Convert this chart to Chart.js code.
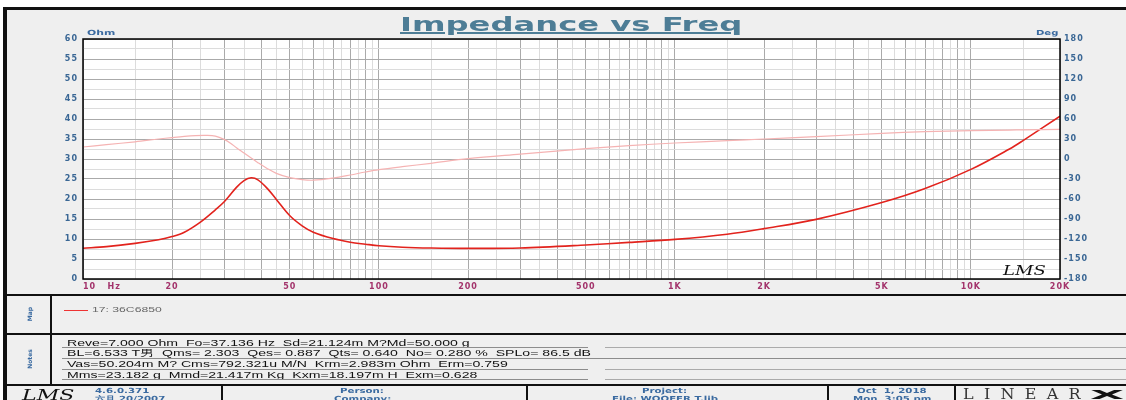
<!DOCTYPE html>
<html>
<head>
<meta charset="utf-8">
<script src="https://cdn.jsdelivr.net/npm/chart.js@4.4.1/dist/chart.umd.min.js"></script>
<style>
  html, body { margin: 0; padding: 0; background: #fff; }
  #page { position: relative; width: 1126px; height: 400px; overflow: hidden; background: #fff;
          font-family: "Liberation Sans", Arial, sans-serif; }
  .bar { position: absolute; background: #111; }
  .t { position: absolute; white-space: pre; line-height: 1; transform-origin: 0 50%; }
  .blue { color: #3a6aa0; font-family: "DejaVu Sans", sans-serif; font-weight: bold; }
  .uline { position: absolute; height: 1px; background: #8c8c8c; }
  #chartBox { position: absolute; left: 0; top: 0; width: 1126px; height: 294px; }
</style>
</head>
<body>
<div id="page">
  <!-- panel background and frame -->
  <div style="position:absolute;left:7px;top:10px;width:1119px;height:390px;background:#efefef"></div>
  <div id="chartBox"><canvas id="impChart"></canvas></div>
  <div class="bar" style="left:3px;top:7px;width:1123px;height:3px"></div>
  <div class="bar" style="left:3px;top:7px;width:4px;height:393px"></div>

  <!-- title and axis units -->
  <div class="t" id="title" style="left:400px;top:14px;font:bold 20px 'DejaVu Sans',sans-serif;line-height:20px;color:#4d7d96;text-decoration:underline;text-decoration-thickness:2px;text-underline-offset:1px">Impedance vs Freq</div>
  <div class="t blue" id="ohm" style="left:87px;top:30px;font-size:7px">Ohm</div>
  <div class="t blue" id="deg" style="left:1036px;top:30px;font-size:7px">Deg</div>
  <div class="t" id="lmsPlot" style="left:1003px;top:263px;font:italic 13px 'DejaVu Serif',serif;color:#111">LMS</div>

  <!-- separators -->
  <div class="bar" style="left:3px;top:294px;width:1123px;height:2px"></div>
  <div class="bar" style="left:3px;top:333px;width:1123px;height:2px"></div>
  <div class="bar" style="left:3px;top:384px;width:1123px;height:2px"></div>
  <div class="bar" style="left:50px;top:296px;width:2px;height:88px"></div>
  <div class="bar" style="left:221px;top:386px;width:2px;height:14px"></div>
  <div class="bar" style="left:526px;top:386px;width:2px;height:14px"></div>
  <div class="bar" style="left:827px;top:386px;width:2px;height:14px"></div>
  <div class="bar" style="left:954px;top:386px;width:2px;height:14px"></div>

  <!-- Map box -->
  <div class="t blue" style="left:16px;top:311px;font-size:6px;transform:rotate(-90deg);transform-origin:50% 50%;width:28px;text-align:center">Map</div>
  <div style="position:absolute;left:64px;top:310px;width:24px;height:1px;background:#e33"></div>
  <div class="t" id="legendText" style="left:92px;top:306px;font-size:8px;color:#666">17: 36C6850</div>

  <!-- Notes box -->
  <div class="t blue" style="left:12px;top:356px;font-size:6px;transform:rotate(-90deg);transform-origin:50% 50%;width:36px;text-align:center">Notes</div>
  <div class="t note" style="left:67px;top:338.5px;font-size:9px;color:#111">Reve=7.000 Ohm  Fo=37.136 Hz  Sd=21.124m M?Md=50.000 g</div>
  <div class="t note" style="left:67px;top:349.2px;font-size:9px;color:#111">BL=6.533 T男  Qms= 2.303  Qes= 0.887  Qts= 0.640  No= 0.280 %  SPLo= 86.5 dB</div>
  <div class="t note" style="left:67px;top:359.9px;font-size:9px;color:#111">Vas=50.204m M? Cms=792.321u M/N  Krm=2.983m Ohm  Erm=0.759</div>
  <div class="t note" style="left:67px;top:370.6px;font-size:9px;color:#111">Mms=23.182 g  Mmd=21.417m Kg  Kxm=18.197m H  Exm=0.628</div>
  <div class="uline" style="left:62px;top:347px;width:526px"></div>
  <div class="uline" style="left:605px;top:347px;width:521px;background:#aaa"></div>
  <div class="uline" style="left:62px;top:358px;width:1064px"></div>
  <div class="uline" style="left:62px;top:368.5px;width:526px"></div>
  <div class="uline" style="left:605px;top:368.5px;width:521px;background:#aaa"></div>
  <div class="uline" style="left:62px;top:379px;width:526px"></div>
  <div class="uline" style="left:605px;top:379px;width:521px;background:#aaa"></div>

  <!-- bottom strip -->
  <div class="t" id="lmsLogo" style="left:22px;top:386px;font:italic 15px 'DejaVu Serif',serif;color:#111">LMS</div>
  <div class="t blue strip" style="left:95px;top:388px;font-size:7px">4.6.0.371</div>
  <div class="t blue strip" style="left:95px;top:396px;font-size:7px">六月 20/2007</div>
  <div class="t blue strip c" data-cx="362" style="top:388px;font-size:7px">Person:</div>
  <div class="t blue strip c" data-cx="362" style="top:396px;font-size:7px">Company:</div>
  <div class="t blue strip c" data-cx="665" style="top:388px;font-size:7px">Project:</div>
  <div class="t blue strip c" data-cx="665" style="top:396px;font-size:7px">File: WOOFER T.lib</div>
  <div class="t blue strip c" id="dateText" data-cx="892" style="top:388px;font-size:7px">Oct  1, 2018</div>
  <div class="t blue strip c" data-cx="892" style="top:396px;font-size:7px">Mon  3:05 pm</div>
  <div class="t" id="linear" style="left:963px;top:386px;font:14px 'DejaVu Serif',serif;letter-spacing:9px;color:#333">LINEAR</div>
  <div class="t" id="linX" style="left:1090px;top:387px;font:bold 13px 'DejaVu Sans',sans-serif;color:#111">X</div>
</div>

<script>
// impedance magnitude
const impFreqHz = [10, 12, 15, 18, 20, 22, 25, 28, 30, 33, 35, 37, 39, 42, 45, 50, 55, 60, 70, 80, 90,
  100, 120, 150, 200, 300, 500, 700, 1000, 1500, 2000, 3000, 5000, 7000, 10000, 13500, 15000, 20000];
const impedanceOhm = [7.7, 8.1, 8.9, 9.8, 10.6, 11.7, 14.3, 17.3, 19.3, 22.9, 24.6, 25.3, 24.8, 22.6, 19.9, 15.8, 13.3, 11.7, 10.1, 9.2, 8.7,
  8.3, 7.95, 7.75, 7.65, 7.75, 8.5, 9.15, 9.9, 11.2, 12.6, 14.9, 19.1, 22.6, 27.4, 32.5, 34.6, 40.7];

// phase, right axis
const phaseFreqHz = [10, 12, 15, 18, 20, 22, 24, 26, 28, 30, 31.5, 33, 35, 37, 39, 42, 45, 50, 55, 60, 70, 80, 90,
  100, 120, 150, 200, 300, 500, 700, 1000, 1500, 2000, 3000, 5000, 7000, 10000, 13500, 15000, 20000];
const phaseDeg = [18, 21.5, 25.8, 30, 32.2, 34, 35.1, 35.4, 34.4, 29.5, 23.8, 16.8, 9, 1.5, -5.5, -14.5, -21.5, -28, -31, -31.8, -28.5, -24, -19.5,
  -16, -11.5, -6.5, 0.5, 7.3, 15.5, 20, 24, 27.5, 30, 33.5, 38.5, 41, 42.5, 43.4, 43.7, 44.3];

const xLabelValues = [10, 20, 50, 100, 200, 500, 1000, 2000, 5000, 10000, 20000];
const xLabelTexts = ['10   Hz', '20', '50', '100', '200', '500', '1K', '2K', '5K', '10K', '20K'];
const gridSteps = [1, 1.5, 2, 2.5, 3, 3.5, 4, 4.5, 5, 5.5, 6, 6.5, 7, 7.5, 8, 8.5, 9, 9.5];

const GRID_MAJOR = '#aaaaaa';
const GRID_MINOR = '#dcdcdc';
const AXIS_BLUE = '#3a6795';
const AXIS_RED = '#a3336b';

// grid every half unit of each decade
const gridTicks = [];
[10, 100, 1000, 10000].forEach(d => {
  gridSteps.forEach(m => { if (d * m <= 20000) gridTicks.push(d * m); });
});

function isMajorFreq(v) {
  if (!v) return false;
  const m = v / Math.pow(10, Math.floor(Math.log10(v) + 1e-9));
  return Math.abs(m - Math.round(m)) < 1e-6;
}

const tickFont = { family: 'DejaVu Sans', size: 8, weight: 'bold' };

const frameBits = {
  id: 'frameBits',
  beforeDraw(chart) {
    const { ctx, chartArea: a } = chart;
    ctx.save();
    ctx.fillStyle = '#ffffff';
    ctx.fillRect(a.left, a.top, a.right - a.left, a.bottom - a.top);
    ctx.restore();
    ctx.letterSpacing = '1px';
  },
  afterDraw(chart) {
    const { ctx, chartArea: a } = chart;
    ctx.save();
    ctx.strokeStyle = '#000';
    ctx.lineWidth = 1.5;
    ctx.strokeRect(a.left, a.top, a.right - a.left, a.bottom - a.top);
    ctx.restore();
  }
};

const impChart = new Chart(document.getElementById('impChart'), {
  type: 'line',
  data: {
    datasets: [
      {
        label: 'Phase',
        data: phaseFreqHz.map((f, i) => ({ x: f, y: phaseDeg[i] })),
        yAxisID: 'y1',
        borderColor: '#f5b3b3',
        borderWidth: 1.2,
        pointRadius: 0,
        tension: 0.35
      },
      {
        label: '17: 36C6850',
        data: impFreqHz.map((f, i) => ({ x: f, y: impedanceOhm[i] })),
        yAxisID: 'y',
        borderColor: '#e2231d',
        borderWidth: 1.6,
        pointRadius: 0,
        tension: 0.35
      }
    ]
  },
  options: {
    responsive: true,
    maintainAspectRatio: false,
    animation: false,
    layout: { padding: { top: 39, left: 0, right: 0, bottom: 0 } },
    plugins: { legend: { display: false }, tooltip: { enabled: false } },
    scales: {
      x: {
        type: 'logarithmic',
        min: 10,
        max: 20000,
        afterBuildTicks: s => { s.ticks = gridTicks.map(v => ({ value: v })); },
        afterFit: s => { s.height = 15; },
        border: { display: false },
        grid: {
          drawTicks: false,
          lineWidth: 1,
          color: c => isMajorFreq(c.tick && c.tick.value) ? GRID_MAJOR : GRID_MINOR
        },
        ticks: {
          autoSkip: false, maxRotation: 0, minRotation: 0, padding: 3,
          color: AXIS_RED, font: tickFont,
          callback: v => {
            const i = xLabelValues.indexOf(v);
            if (i < 0) return '';
            return i === 0 ? ' '.repeat(10) + xLabelTexts[0] : xLabelTexts[i];
          }
        }
      },
      y: {
        position: 'left',
        min: 0,
        max: 60,
        afterFit: s => { s.width = 83; },
        border: { display: false },
        grid: {
          drawTicks: false,
          lineWidth: 1,
          color: c => (c.tick && c.tick.value % 5 === 0) ? GRID_MAJOR : GRID_MINOR
        },
        ticks: {
          stepSize: 2.5, autoSkip: false, padding: 5,
          color: AXIS_BLUE, font: tickFont,
          callback: v => v % 5 === 0 ? String(v) : ''
        }
      },
      y1: {
        position: 'right',
        min: -180,
        max: 180,
        afterFit: s => { s.width = 66; },
        border: { display: false },
        grid: { display: false, drawTicks: false },
        ticks: { stepSize: 30, autoSkip: false, padding: 4, color: AXIS_BLUE, font: tickFont }
      }
    }
  },
  plugins: [frameBits]
});

// the reference text is drawn wide, stretch the html labels to its widths
function stretch(el, w) {
  const s = w / el.offsetWidth;
  el.style.transform = 'scaleX(' + s + ')';
  return s;
}
stretch(document.getElementById('title'), 343);
stretch(document.getElementById('ohm'), 28);
stretch(document.getElementById('deg'), 23);
stretch(document.getElementById('lmsPlot'), 43);
stretch(document.getElementById('lmsLogo'), 53);
stretch(document.getElementById('legendText'), 70);
stretch(document.getElementById('linear'), 128);
stretch(document.getElementById('linX'), 34);

const notes = document.querySelectorAll('.note');
const noteScale = 411 / notes[3].offsetWidth;
notes.forEach(el => { el.style.transform = 'scaleX(' + noteScale + ')'; });

const stripScale = 70 / document.getElementById('dateText').offsetWidth;
document.querySelectorAll('.strip').forEach(el => {
  const w = el.offsetWidth * stripScale;
  if (el.classList.contains('c')) el.style.left = (Number(el.dataset.cx) - w / 2) + 'px';
  el.style.transform = 'scaleX(' + stripScale + ')';
});
</script>
</body>
</html>
